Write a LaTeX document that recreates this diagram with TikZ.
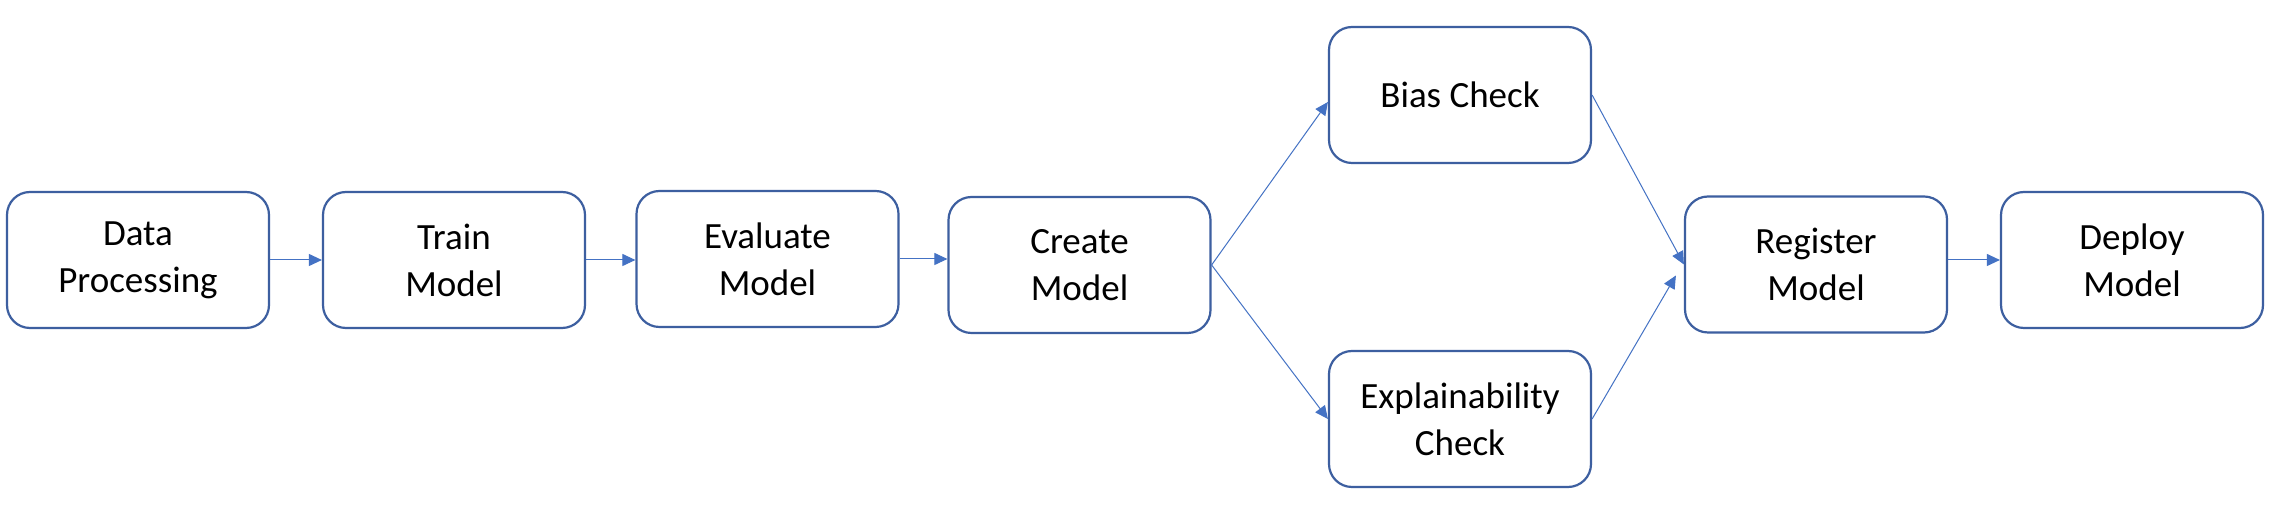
\documentclass[tikz,border=0pt]{standalone}
\usepackage{fontspec}
\setmainfont{Carlito}
\usetikzlibrary{arrows.meta,calc}
\definecolor{boxline}{HTML}{3D5FA0}
\definecolor{arrowline}{HTML}{4472C4}
\tikzset{
  stage/.style={draw=boxline, line width=1.1pt, rounded corners=11.5pt,
    minimum width=131pt, minimum height=68pt, align=center, inner sep=0pt,
    fill=white, font=\fontsize{18.5}{23.5}\selectfont},
  flow/.style={draw=arrowline, line width=0.5pt,
    -{Triangle[length=6.5pt,width=6pt]}},
}
\begin{document}
\begin{tikzpicture}[x=0.5pt,y=-0.5pt]
\fill[white] (0,0) rectangle (2276,512);
\useasboundingbox (0,0) rectangle (2276,512);
\node[stage] (data) at (138,260) {Data\\Processing};
\node[stage] (train) at (454,260) {Train\\Model};
\node[stage] (eval) at (767.5,259) {Evaluate\\Model};
\node[stage] (create) at (1079.5,265) {Create\\Model};
\node[stage] (bias) at (1460,95) {Bias Check};
\node[stage] (expl) at (1460,419) {Explainability\\Check};
\node[stage] (reg) at (1816,264.5) {Register\\Model};
\node[stage] (deploy) at (2132,260) {Deploy\\Model};
\coordinate (biasin) at ($(bias.west)+(0,7)$);
\coordinate (regin) at ($(reg.west)+(-8,11)$);
\draw[flow] (data.east) -- (train.west);
\draw[flow] (train.east) -- (train.east -| eval.west);
\draw[flow] (eval.east) -- (eval.east -| create.west);
\draw[flow] (create.east) -- (biasin);
\draw[flow] (create.east) -- (expl.west);
\draw[flow] (bias.east) -- (reg.west);
\draw[flow] (expl.east) -- (regin);
\draw[flow] (deploy.west -| reg.east) -- (deploy.west);
\end{tikzpicture}
\end{document}
